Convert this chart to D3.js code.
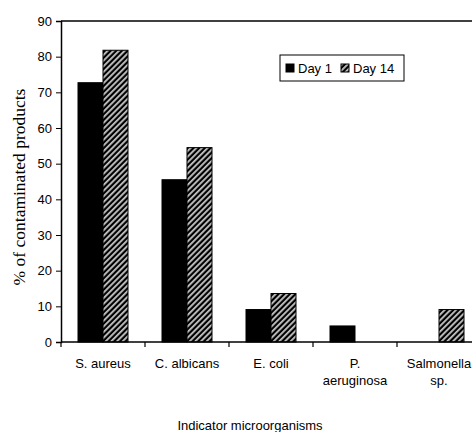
<!DOCTYPE html>
<html>
<meta charset="utf-8">
<script src="https://d3js.org/d3.v7.min.js"></script>
<body style="margin:0;background:#fff">
<svg id="chart"></svg>
<script>
    var categories = ["S. aureus", "C. albicans", "E. coli", "P. aeruginosa", "Salmonella sp."];
    var tickLabels = [["S. aureus"], ["C. albicans"], ["E. coli"], ["P.", "aeruginosa"], ["Salmonella", "sp."]];
    var day1 = [72.7, 45.5, 9.1, 4.5, 0];
    var day14 = [81.8, 54.5, 13.6, 0, 9.1];
    var seriesNames = ["Day 1", "Day 14"];
    var yTicks = [0, 10, 20, 30, 40, 50, 60, 70, 80, 90];

    var width = 472, height = 432;
    var margin = { top: 21, left: 61, bottom: 90 };
    var plotW = 420;
    var sans = "Liberation Sans, Arial";

    var svg = d3.select("#chart").attr("width", width).attr("height", height);

    var defs = svg.append("defs");
    var pat = defs.append("pattern")
        .attr("id", "hatch")
        .attr("patternUnits", "userSpaceOnUse")
        .attr("width", 4).attr("height", 4)
        .attr("patternTransform", "rotate(45)");
    pat.append("rect").attr("width", 4).attr("height", 4).attr("fill", "#000");
    pat.append("rect").attr("x", 0).attr("width", 1.8).attr("height", 4).attr("fill", "#c8c8c8");

    var x = d3.scaleBand().domain(categories).range([margin.left, margin.left + plotW]);
    var x1 = d3.scaleBand().domain(seriesNames).range([17, x.bandwidth() - 17]);
    var y = d3.scaleLinear().domain([0, 90]).range([height - margin.bottom, margin.top]);

    var rows = categories.map(function (c, i) { return { cat: c, vals: [day1[i], day14[i]] }; });

    var g = svg.append("g");
    g.selectAll("g.grp").data(rows).enter().append("g")
        .attr("class", "grp")
        .attr("transform", function (d) { return "translate(" + x(d.cat) + ",0)"; })
        .selectAll("rect").data(function (d) { return d.vals.map(function (v, j) { return { s: seriesNames[j], v: v }; }); })
        .enter().append("rect")
        .attr("x", function (d) { return x1(d.s); })
        .attr("width", x1.bandwidth())
        .attr("y", function (d) { return y(d.v); })
        .attr("height", function (d) { return y(0) - y(d.v); })
        .attr("fill", function (d) { return d.s === "Day 1" ? "#000" : "url(#hatch)"; })
        .attr("stroke", "#000")
        .attr("stroke-width", function (d) { return d.v > 0 ? 1 : 0; });

    // frame top line
    svg.append("line")
        .attr("x1", margin.left).attr("x2", margin.left + plotW)
        .attr("y1", y(90)).attr("y2", y(90))
        .attr("stroke", "#000").attr("stroke-width", 1.3);

    var yAxis = svg.append("g")
        .attr("transform", "translate(" + margin.left + ",0)")
        .call(d3.axisLeft(y).tickValues(yTicks).tickSize(5).tickPadding(4));
    yAxis.select(".domain").attr("stroke-width", 1.5);
    yAxis.selectAll("text").style("font-family", sans).style("font-size", "13px").attr("fill", "#000");

    var xAxis = svg.append("g")
        .attr("transform", "translate(0," + y(0) + ")")
        .call(d3.axisBottom(x).tickSize(0).tickFormat(""));
    xAxis.select(".domain").attr("stroke-width", 1.5).attr("d", "M" + margin.left + ",0H" + (margin.left + plotW));
    svg.append("g").selectAll("line").data(categories).enter().append("line")
        .attr("x1", function (d) { return x(d); }).attr("x2", function (d) { return x(d); })
        .attr("y1", y(0)).attr("y2", y(0) + 5)
        .attr("stroke", "#000").attr("stroke-width", 1.2);

    var lab = svg.append("g").selectAll("text").data(categories).enter().append("text")
        .attr("y", y(0) + 26)
        .attr("text-anchor", "middle")
        .style("font-family", sans).style("font-size", "13px");
    lab.each(function (d, i) {
        var t = d3.select(this);
        tickLabels[i].forEach(function (p, k) {
            t.append("tspan").attr("x", x(d) + x.bandwidth() / 2).attr("dy", k === 0 ? 0 : 17).text(p);
        });
    });

    svg.append("text")
        .attr("x", 250).attr("y", 430)
        .attr("text-anchor", "middle")
        .style("font-family", sans).style("font-size", "13px")
        .text("Indicator microorganisms");

    svg.append("text")
        .attr("transform", "translate(25,187) rotate(-90)")
        .attr("text-anchor", "middle")
        .style("font-family", "Liberation Serif, Times New Roman").style("font-size", "17.5px")
        .text("% of contaminated products");

    // legend
    var leg = svg.append("g").attr("transform", "translate(280,55)");
    leg.append("rect").attr("width", 124).attr("height", 26).attr("fill", "#fff").attr("stroke", "#000");
    var items = leg.selectAll("g").data(seriesNames).enter().append("g")
        .attr("transform", function (d, i) { return "translate(" + (6 + i * 55) + ",9)"; });
    items.append("rect").attr("width", 8).attr("height", 8).attr("stroke", "#000")
        .attr("fill", function (d, i) { return i === 0 ? "#000" : "url(#hatch)"; });
    items.append("text").attr("x", 12).attr("y", 9)
        .style("font-family", sans).style("font-size", "13px")
        .text(function (d) { return d; });
</script>
</body>
</html>
